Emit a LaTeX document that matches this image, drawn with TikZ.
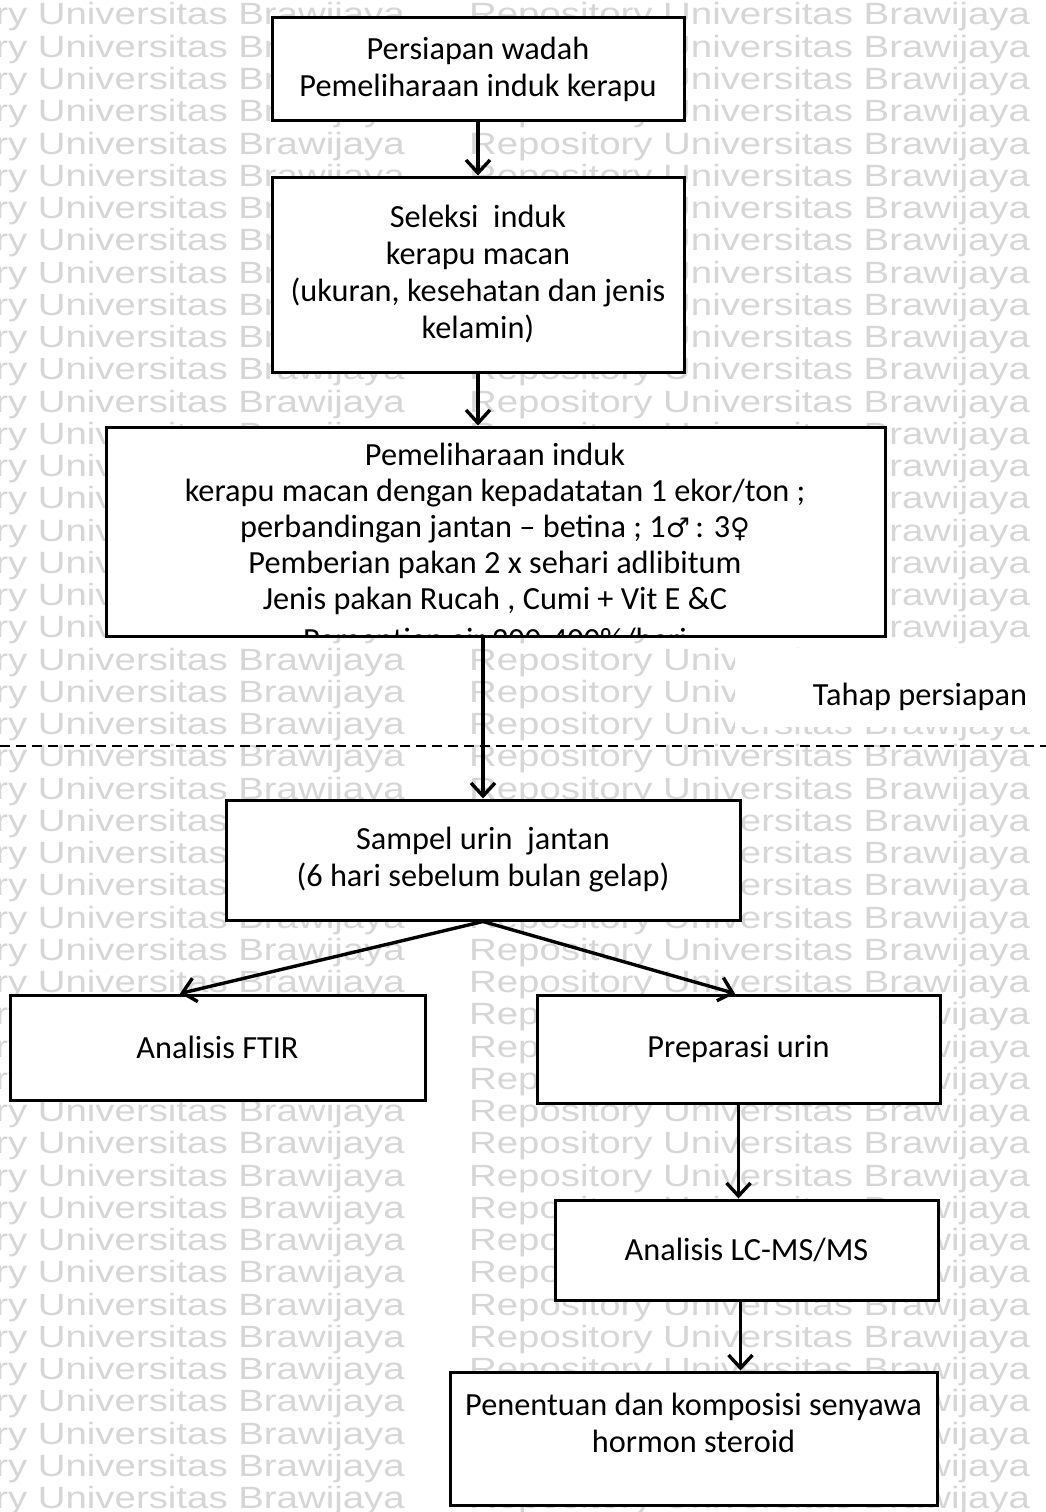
\documentclass[tikz,border=0pt]{standalone}
\usepackage{fontspec}
\setmainfont{Carlito}
\newfontfamily\wmfont{Liberation Sans}
\newfontfamily\symfont{DejaVu Sans}
\usetikzlibrary{arrows.meta}
\begin{document}
\begin{tikzpicture}[x=1pt,y=-1pt,
  wm/.style={font=\wmfont\fontsize{30.7}{30.7}\selectfont, text=black!16, inner sep=0pt},
  box/.style={draw=black, line width=3pt, fill=white, inner sep=0pt, align=center, font=\fontsize{32.3}{37}\selectfont},
  txt/.style={inner sep=0pt, align=center, font=\fontsize{32.3}{37}\selectfont},
  arr/.style={line width=3.4pt, -{Straight Barb[length=13pt,width=24pt]}},
  sep/.style={line width=2.4pt, dash pattern=on 10pt off 6pt}]
\useasboundingbox (0,0) rectangle (1046,1512);
\clip (0,0) rectangle (1046,1512);
\fill[white] (0,0) rectangle (1046,1512);
% watermark
\foreach \k in {0,...,46}{
  \node[wm, anchor=base east] (wmL\k) at (405, 25+32.25*\k) {\scalebox{1.25}[1]{Repository Universitas Brawijaya}};
  \node[wm, anchor=base west] (wmR\k) at (469, 25+32.25*\k) {\scalebox{1.25}[1]{Repository Universitas Brawijaya}};
}
% boxes
\node[box, minimum width=412pt, minimum height=102pt] (wadah) at (478,69) {Persiapan wadah\\Pemeliharaan induk kerapu};
\node[box, minimum width=412pt, minimum height=195pt] (seleksi) at (478,274.5) {Seleksi\ \ induk\\kerapu macan\\(ukuran, kesehatan dan jenis\\kelamin)};
\node[box, minimum width=779pt, minimum height=209pt] (pemel) at (495.5,531.5) {};
\begin{scope}
\clip ([shift={(1.5pt,1.5pt)}]pemel.south west) rectangle ([shift={(-1.5pt,-1.5pt)}]pemel.north east);
\node[txt, font=\fontsize{32.3}{36}\selectfont] (pemeltxt) at (495,550) {Pemeliharaan induk\\kerapu macan dengan kepadatatan 1 ekor/ton ;\\perbandingan jantan – betina ; 1{\symfont\fontsize{27}{27}\selectfont ♂}\,: 3{\symfont\fontsize{27}{27}\selectfont ♀}\\Pemberian pakan 2 x sehari adlibitum\\Jenis pakan Rucah , Cumi + Vit E \&C\\[5pt]Pergantian air 200-400\%/hari};
\end{scope}
\node[fill=white, inner sep=0pt, minimum width=320pt, minimum height=79pt] (tahapbg) at (895,687.5) {};
\node[txt] (tahap) at (920,697) {Tahap persiapan};
\coordinate (sepL) at (0,746);
\coordinate (sepR) at (1046,746);
\draw[sep] (sepL) -- (sepR);
\node[box, minimum width=514pt, minimum height=120pt] (sampel) at (483,860) {Sampel urin\ \ jantan\\(6 hari sebelum bulan gelap)};
\node[box, minimum width=415pt, minimum height=105pt] (ftir) at (217.5,1047.5) {Analisis FTIR};
\node[box, minimum width=403pt, minimum height=108pt] (prepar) at (738.5,1049) {Preparasi urin};
\node[box, minimum width=383pt, minimum height=100pt] (lcms) at (746.5,1250) {Analisis LC-MS/MS};
\node[box, minimum width=487pt, minimum height=133pt] (hasil) at (693.5,1438.5) {};
\node[txt] (hasiltxt) at (693.5,1423) {Penentuan dan komposisi senyawa\\hormon steroid};
% connectors
\draw[arr] (wadah.south) -- (wadah.south |- seleksi.north);
\draw[arr] (seleksi.south) -- (seleksi.south |- pemel.north);
\draw[arr] (sampel.north |- pemel.south) -- (sampel.north);
\draw[arr] (sampel.south) -- ([xshift=-37.5pt]ftir.north);
\draw[arr] (sampel.south) -- ([xshift=-3.5pt]prepar.north);
\draw[arr] (prepar.south) -- (prepar.south |- lcms.north);
\draw[arr] ([xshift=-6pt]lcms.south) -- ([xshift=-6pt]lcms.south |- hasil.north);
\end{tikzpicture}
\end{document}
